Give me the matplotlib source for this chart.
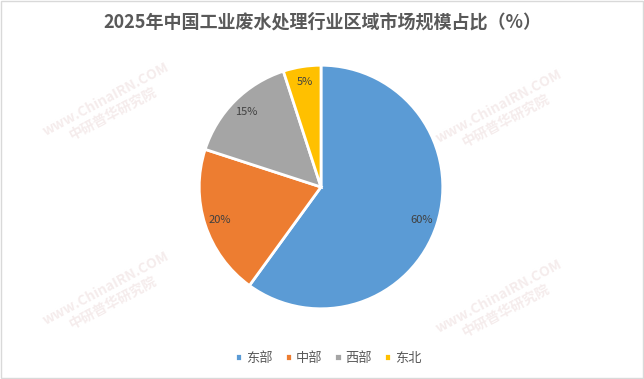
import matplotlib.pyplot as plt
from matplotlib.patches import Rectangle

plt.rcParams['font.family'] = ['Noto Sans CJK SC', 'DejaVu Sans']

# data
regions = ['东部', '中部', '西部', '东北']
shares = [60, 20, 15, 5]
colors = ['#5B9BD5', '#ED7D31', '#A5A5A5', '#FFC000']
title = '2025年中国工业废水处理行业区域市场规模占比（%）'

fig = plt.figure(figsize=(6.44, 3.79), dpi=100)
fig.patch.set_facecolor('white')

# thin frame around the figure
fig.add_artist(Rectangle((0.002, 0.003), 0.996, 0.994, transform=fig.transFigure,
                         fill=False, edgecolor='#D9D9D9', linewidth=1))

# faint watermarks
for (wx, wy) in [(0.17, 0.72), (0.78, 0.70), (0.17, 0.22), (0.78, 0.20)]:
    fig.text(wx, wy, 'www.ChinaIRN.COM\n中研普华研究院', rotation=28, ha='center', va='center',
             fontsize=10, color='#F5ECEC', fontweight='bold', zorder=0)

ax = fig.add_axes([(321 - 123) / 644, (192 - 123) / 379, 246 / 644, 246 / 379])
wedges, texts, autotexts = ax.pie(
    shares, colors=colors, startangle=90, counterclock=False,
    autopct='%d%%', pctdistance=0.87,
    wedgeprops=dict(edgecolor='white', linewidth=2),
    textprops=dict(fontsize=8, color='#404040'))
ax.set_xlim(-1.01, 1.01)
ax.set_ylim(-1.01, 1.01)
ax.set_aspect('equal')

fig.text(0.5, 0.942, title, ha='center', va='center', fontsize=13,
         fontweight='bold', color='#595959')

fig.legend(wedges, regions, loc='center', bbox_to_anchor=(0.51, 0.055), ncol=4,
           frameon=False, fontsize=9.5, handlelength=0.55, handleheight=0.55,
           handletextpad=0.3, columnspacing=0.9, labelcolor='#595959')

fig.savefig('out.png', dpi=100)
